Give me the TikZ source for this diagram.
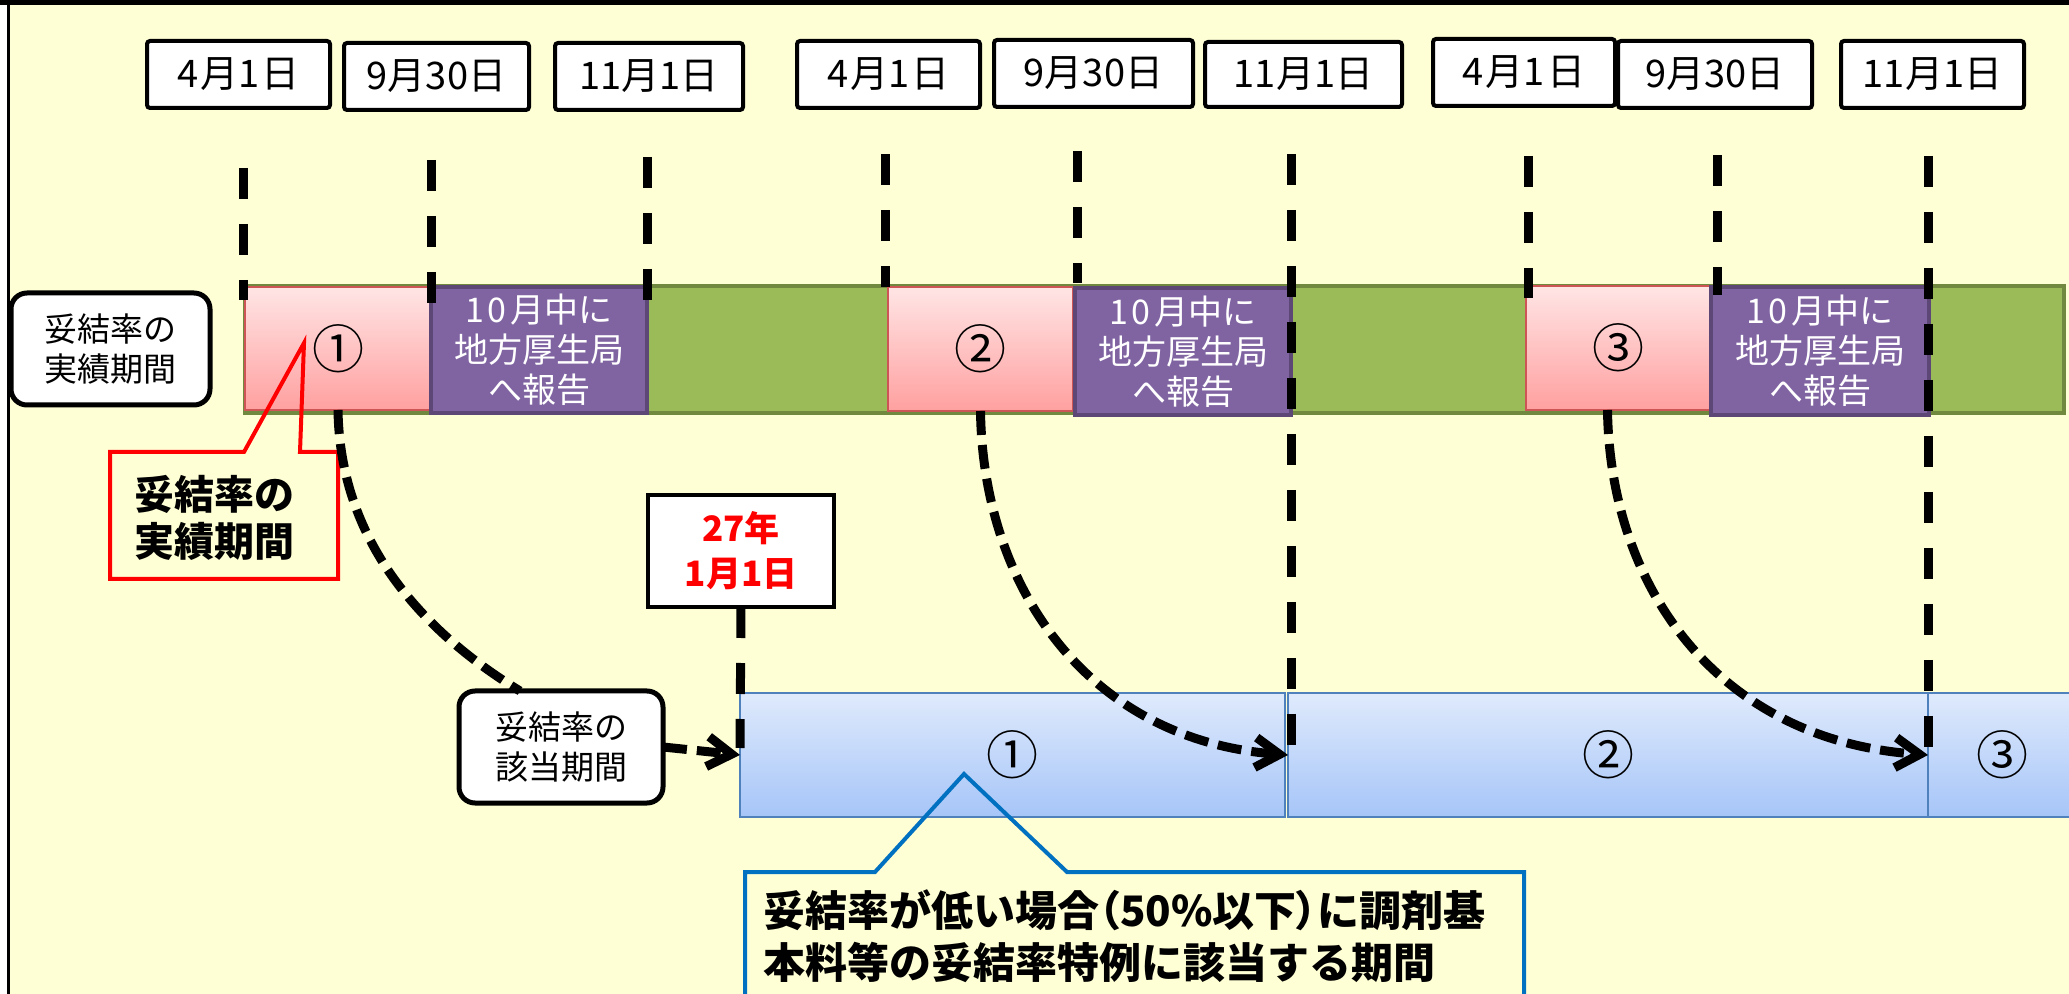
\documentclass[tikz,border=0pt]{standalone}
\usepackage{fontspec}
\setmainfont{Noto Sans CJK JP}
\usetikzlibrary{arrows.meta,calc}

\definecolor{bg}{RGB}{255,255,214}
\definecolor{grn}{RGB}{155,187,89}
\definecolor{grnd}{RGB}{113,137,63}
\definecolor{pur}{RGB}{128,100,162}
\definecolor{purd}{RGB}{92,71,118}
\definecolor{pinkt}{RGB}{255,229,229}
\definecolor{pinkb}{RGB}{255,160,160}
\definecolor{pinkd}{RGB}{205,85,85}
\definecolor{bluet}{RGB}{223,234,252}
\definecolor{blueb}{RGB}{166,197,248}
\definecolor{blued}{RGB}{79,129,189}
\definecolor{callblue}{RGB}{0,112,192}
\definecolor{redc}{RGB}{255,0,0}

\newcommand\mybox[7]{\node[#2, minimum width={(#5-#3)*0.5pt}, minimum height={(#6-#4)*0.5pt}] (#1) at ({(#3+#5)/2},{(#4+#6)/2}) {#7};}
\newcommand\narrowparen[1]{{\addfontfeatures{RawFeature=+palt}#1}}

\begin{document}
\begin{tikzpicture}[x=0.5pt,y=-0.5pt,
  every node/.style={inner sep=0pt, outer sep=0pt},
  datebox/.style={draw=black, line width=2pt, fill=white, rounded corners=1.5pt, font=\fontsize{19}{20}\selectfont},
  labelbox/.style={draw=black, line width=2.5pt, fill=white, rounded corners=8pt, align=center, font=\fontsize{16.5}{20}\selectfont},
  nybox/.style={draw=black, line width=2pt, fill=white, text=redc, align=center, font=\bfseries\fontsize{17.5}{22.5}\selectfont},
  greenbar/.style={draw=grnd, fill=grn, line width=2pt},
  pinkbox/.style={draw=pinkd, line width=0.8pt, top color=pinkt, bottom color=pinkb, font=\fontsize{26}{26}\selectfont},
  purbox/.style={draw=purd, line width=2pt, fill=pur, text=white, align=center, font=\fontsize{17}{20}\selectfont},
  bluebox/.style={draw=blued, line width=0.8pt, top color=bluet, bottom color=blueb, font=\fontsize{26}{26}\selectfont},
  vdash/.style={line width=4.5pt, dash pattern=on 15.5pt off 12.5pt},
  cline/.style={line width=4.5pt, dash pattern=on 12pt off 5pt},
  carrow/.style={cline, -{Straight Barb[length=12pt,width=15pt]}}
]
\useasboundingbox (0,0) rectangle (2069,994);
\fill[bg] (0,0) rectangle (2069,994);
\fill[white] (0,0) rectangle (7,994);
\fill[black] (7,0) rectangle (10,994);
\fill[black] (0,0) rectangle (2069,5);

% green bar
\mybox{gb}{greenbar}{245}{286}{2064}{413}{}

% pink boxes
\mybox{p1}{pinkbox}{245}{287}{431}{410}{①}
\mybox{p2}{pinkbox}{888}{287}{1073}{411}{②}
\mybox{p3}{pinkbox}{1526}{286}{1711}{410}{③}

% purple boxes
\mybox{q1}{purbox}{431}{287}{647}{413}{1\kern2pt0\kern2pt月中に\\地方厚生局\\へ報告}
\mybox{q2}{purbox}{1075}{288}{1291}{415}{1\kern2pt0\kern2pt月中に\\地方厚生局\\へ報告}
\mybox{q3}{purbox}{1711}{287}{1929}{415}{1\kern2pt0\kern2pt月中に\\地方厚生局\\へ報告}

% blue boxes
\mybox{b1}{bluebox}{740}{693}{1285}{817}{①}
\mybox{b2}{bluebox}{1288}{693}{1928}{817}{②}
\mybox{b3}{bluebox}{1928}{693}{2076}{817}{③}

% red callout
\coordinate (rtip) at (304,343);
\draw[redc, line width=2pt] (110,452) -- (244,452) -- (rtip) -- (300,452) -- (338,452) -- (338,579) -- (110,579) -- cycle;
\node[font=\bfseries\fontsize{20}{23.5}\selectfont, align=left] (rc) at (214,518) {妥結率の\\実績期間};

% blue callout
\coordinate (btip) at (964,774);
\draw[callblue, line width=2pt] (745,1010) -- (745,872) -- (875,872) -- (btip) -- (1067,872) -- (1524,872) -- (1524,1010);
\node[anchor=west, align=left, font=\bfseries\fontsize{21}{26}\selectfont] (bc) at (763,936) {妥結率が低い場合\narrowparen{（}50\%以下\narrowparen{）}に調剤基\\本料等の妥結率特例に該当する期間};

% labels
\mybox{lbl1}{labelbox}{11}{293}{210}{405}{妥結率の\\実績期間}
\mybox{gai}{labelbox}{459}{691}{663}{803}{妥結率の\\該当期間}
\mybox{ny}{nybox}{648}{495}{834}{607}{27年\\1月1日}

% vertical dashed lines
\foreach \i/\x/\a/\b in {1/243/168/300, 2/431/160/303, 3/647/157/302,
                        4/885/154/287, 5/1077/151/283, 6/1291/154/745,
                        7/1528/156/298, 8/1717/155/295, 9/1928/156/748}{
  \coordinate (s\i) at (\x,\a);
  \coordinate (e\i) at (\x,\b);
  \draw[vdash] (s\i) -- (e\i);
}
\coordinate (nyend) at (740,748);
\draw[vdash] (ny.south) -- (nyend);

% curved arrows
\draw[cline] (p1.south) .. controls (340,540) and (420,630) .. ($(gai.north)+(-41,0)$);
\draw[carrow] (gai.east) -- (b1.west);
\draw[carrow] (p2.south) .. controls (983,590) and (1090,740) .. (b2.west);
\draw[carrow] ($(p3.south)+(-11,0)$) .. controls (1610,590) and (1720,740) .. (b3.west);

% date boxes
\mybox{d1}{datebox}{147}{41}{330}{108}{4\kern1pt月1\kern1pt日}
\mybox{d2}{datebox}{344}{43}{529}{110}{9月30日}
\mybox{d3}{datebox}{555}{43}{743}{110}{11月1日}
\mybox{d4}{datebox}{797}{41}{980}{108}{4\kern1pt月1\kern1pt日}
\mybox{d5}{datebox}{994}{40}{1193}{107}{9月30日}
\mybox{d6}{datebox}{1205}{42}{1402}{107}{11月1日}
\mybox{d7}{datebox}{1433}{39}{1615}{106}{4\kern1pt月1\kern1pt日}
\mybox{d8}{datebox}{1618}{41}{1812}{108}{9月30日}
\mybox{d9}{datebox}{1841}{41}{2024}{108}{11月1日}
\end{tikzpicture}
\end{document}
